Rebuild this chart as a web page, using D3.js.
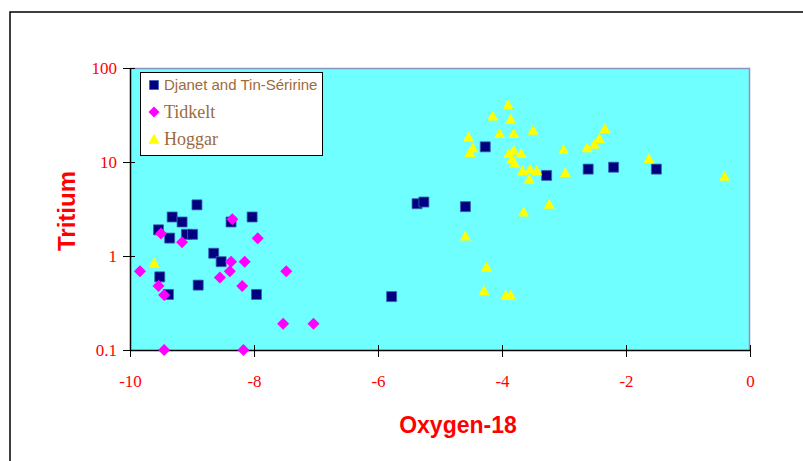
<!DOCTYPE html>
<html>
<head>
<meta charset="utf-8">
<script src="https://cdn.jsdelivr.net/npm/d3@7"></script>
<style>
  body { margin: 0; background: #fff; }
  svg { display: block; }
</style>
</head>
<body>
<svg id="chart" width="803" height="461"></svg>
<script>
// Data
const djanetX = [-8.92, -9.32, -9.16, -9.54, -9.36, -9.09, -8.99, -8.37, -8.03, -8.65, -8.53, -9.52, -9.38, -8.90, -7.96,
                 -4.27, -3.28, -5.37, -5.26, -4.59, -5.78, -2.61, -2.20, -1.51];
const djanetY = [3.5, 2.6, 2.3, 1.9, 1.55, 1.7, 1.7, 2.3, 2.6, 1.07, 0.87, 0.6, 0.39, 0.49, 0.39,
                 14.5, 7.2, 3.6, 3.75, 3.35, 0.37, 8.4, 8.8, 8.4];

const tidkeltX = [-8.35, -9.50, -9.16, -7.94, -9.84, -8.37, -8.15, -8.39, -8.55, -7.48, -9.54, -8.19, -9.45,
                  -7.53, -7.04, -9.45, -8.17];
const tidkeltY = [2.46, 1.74, 1.40, 1.54, 0.69, 0.87, 0.87, 0.69, 0.59, 0.69, 0.48, 0.48, 0.385,
                  0.19, 0.19, 0.1, 0.1];

const hoggarX = [-9.61, -3.90, -4.15, -3.86, -3.50, -4.04, -3.81, -4.54, -4.47, -4.52, -3.89, -3.81, -3.69,
                 -3.84, -3.80, -3.67, -3.55, -3.44, -3.56, -3.01, -2.98, -3.24, -3.65, -4.59, -4.25, -4.29,
                 -3.94, -3.86, -2.34, -2.43, -2.51, -2.63, -1.63, -0.41];
const hoggarY = [0.85, 41, 31, 28.7, 21.9, 20.2, 20.2, 18.6, 14.3, 12.7, 12.4, 13.4, 12.4,
                 10.9, 9.8, 8.1, 8.4, 8.1, 6.6, 13.7, 7.8, 3.57, 2.96, 1.64, 0.77, 0.43,
                 0.385, 0.385, 22.8, 17.9, 15.5, 14.3, 10.9, 7.1];

const xTicks = [-10, -8, -6, -4, -2, 0];
const yTicks = [0.1, 1, 10, 100];

const seriesNames = ['Djanet and Tin-Séririne', 'Tidkelt', 'Hoggar'];

// Layout
const plot = { left: 130, right: 750, top: 68, bottom: 350 };

const svg = d3.select('#chart');

// Outer frame
svg.append('rect')
    .attr('x', 10).attr('y', 12)
    .attr('width', 820).attr('height', 480)
    .attr('fill', '#fff')
    .attr('stroke', '#000')
    .attr('stroke-width', 1.5);

// Scales
const x = d3.scaleLinear().domain([-10, 0]).range([plot.left, plot.right]);
const y = d3.scaleLog().domain([0.1, 100]).range([plot.bottom, plot.top]);

// Plot area
svg.append('rect')
    .attr('x', plot.left).attr('y', plot.top)
    .attr('width', plot.right - plot.left)
    .attr('height', plot.bottom - plot.top)
    .attr('fill', '#6fffff');

// Top & right borders (gray)
svg.append('path')
    .attr('d', `M${plot.left},${plot.top + 0.5}H${plot.right - 0.5}V${plot.bottom}`)
    .attr('fill', 'none')
    .attr('stroke', '#8e92c0')
    .attr('stroke-width', 1.5);

// Axes
const xAxis = d3.axisBottom(x).tickValues(xTicks).tickSize(0).tickFormat(d => d);
const yAxis = d3.axisLeft(y).tickValues(yTicks).tickSize(0).tickFormat(d => d);

const xAxisG = svg.append('g')
    .attr('transform', `translate(0,${plot.bottom})`)
    .call(xAxis);
const yAxisG = svg.append('g')
    .attr('transform', `translate(${plot.left},0)`)
    .call(yAxis);

[xAxisG, yAxisG].forEach(g => {
    g.select('.domain').attr('stroke', '#000').attr('stroke-width', 1.5);
    g.selectAll('text')
        .attr('fill', '#ff0000')
        .style('font-family', '"Liberation Serif", "Times New Roman", serif')
        .style('font-size', '17px');
});

xAxisG.selectAll('.tick line')
    .attr('y1', -5).attr('y2', 7)
    .attr('stroke', '#000');
xAxisG.selectAll('.tick text').attr('dy', 0).attr('y', 37);

yAxisG.selectAll('.tick line')
    .attr('x1', -7).attr('x2', 5)
    .attr('stroke', '#000');
yAxisG.selectAll('.tick text').attr('x', -13).attr('dy', '0.33em');

// Marker shapes
function squarePath(s) { return `M${-s},${-s}H${s}V${s}H${-s}Z`; }
function diamondPath(s) { return `M0,${-s}L${s},0L0,${s}L${-s},0Z`; }
function trianglePath(s) { return `M0,${-s * 1.05}L${s * 1.1},${s * 0.95}L${-s * 1.1},${s * 0.95}Z`; }

const series = [
    { name: seriesNames[0], xs: djanetX, ys: djanetY, path: squarePath(5), fill: '#000080', stroke: '#3a64b0' },
    { name: seriesNames[1], xs: tidkeltX, ys: tidkeltY, path: diamondPath(6), fill: '#ff00ff', stroke: 'none' },
    { name: seriesNames[2], xs: hoggarX, ys: hoggarY, path: trianglePath(5), fill: '#ffff00', stroke: 'none' }
];

const marks = svg.append('g');
series.forEach(s => {
    const pts = s.xs.map((v, i) => ({ x: v, y: s.ys[i] }));
    marks.append('g')
        .selectAll('path')
        .data(pts)
        .enter()
        .append('path')
        .attr('d', s.path)
        .attr('transform', d => `translate(${x(d.x)},${y(d.y)})`)
        .attr('fill', s.fill)
        .attr('stroke', s.stroke)
        .attr('stroke-width', 0.8);
});

// Legend
const legend = svg.append('g');
legend.append('rect')
    .attr('x', 140.5).attr('y', 72.5)
    .attr('width', 182).attr('height', 83)
    .attr('fill', '#fff')
    .attr('stroke', '#000')
    .attr('stroke-width', 1);

const legendFonts = [
    { family: '"Liberation Sans", Arial, sans-serif', size: 15 },
    { family: '"Liberation Serif", "Times New Roman", serif', size: 18 },
    { family: '"Liberation Serif", "Times New Roman", serif', size: 18 }
];
const legendShapes = [squarePath(4.5), diamondPath(5.5), trianglePath(5)];

series.forEach((s, i) => {
    const cy = 85 + i * 27;
    legend.append('path')
        .attr('d', legendShapes[i])
        .attr('transform', `translate(154,${cy})`)
        .attr('fill', s.fill)
        .attr('stroke', s.stroke)
        .attr('stroke-width', 0.8);
    legend.append('text')
        .attr('x', 164)
        .attr('y', cy)
        .attr('dy', '0.36em')
        .attr('fill', '#9b6b3b')
        .style('font-family', legendFonts[i].family)
        .style('font-size', legendFonts[i].size + 'px')
        .text(s.name);
});

// Axis titles
svg.append('text')
    .attr('transform', 'translate(75,211) rotate(-90)')
    .attr('text-anchor', 'middle')
    .attr('fill', '#ff0000')
    .style('font-family', '"Liberation Sans", Arial, sans-serif')
    .style('font-weight', 'bold')
    .style('font-size', '24px')
    .text('Tritium');

svg.append('text')
    .attr('x', 458)
    .attr('y', 433)
    .attr('text-anchor', 'middle')
    .attr('fill', '#ff0000')
    .style('font-family', '"Liberation Sans", Arial, sans-serif')
    .style('font-weight', 'bold')
    .style('font-size', '23px')
    .text('Oxygen-18');
</script>
</body>
</html>
